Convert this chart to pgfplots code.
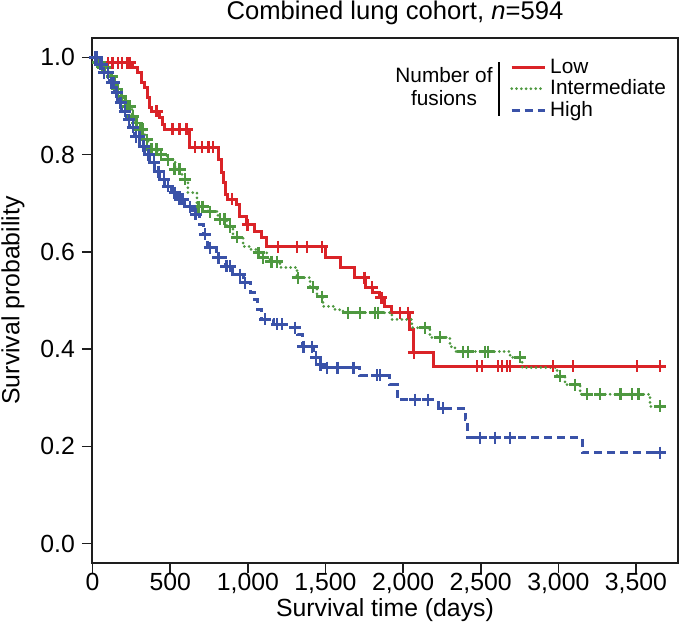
\documentclass[border=0pt]{standalone}
\usepackage{fontspec}
\setmainfont{Liberation Sans}
\usepackage{pgfplots}
\pgfplotsset{compat=1.18}
\definecolor{cLow}{RGB}{218,35,40}
\definecolor{cInt}{RGB}{78,152,64}
\definecolor{cHigh}{RGB}{58,82,168}
\definecolor{framecol}{RGB}{30,30,30}
\begin{document}
\begin{tikzpicture}
\begin{axis}[
  scale only axis, width=293pt, height=262.5pt,
  xmin=-4, xmax=3771, ymin=-0.04, ymax=1.04,
  axis line style={draw=framecol, line width=0.8pt},
  tick style={draw=framecol, line width=0.8pt},
  tick align=outside, major tick length=5pt, tick pos=left,
  xtick={0,500,1000,1500,2000,2500,3000,3500},
  xticklabels={0,500,{1,000},{1,500},{2,000},{2,500},{3,000},{3,500}},
  ytick={0,0.2,0.4,0.6,0.8,1},
  yticklabels={0.0,0.2,0.4,0.6,0.8,1.0},
  ticklabel style={font=\fontsize{12.4}{14}\selectfont},
  xticklabel style={yshift=3.5pt},
  label style={font=\fontsize{12.4}{14}\selectfont},
  xlabel={Survival time (days)},
  ylabel={Survival probability},
  xlabel style={at={(axis description cs:0.5,-0.09)}, anchor=center},
  ylabel style={at={(axis description cs:-0.1348,0.5)}, anchor=center},
  legend style={at={(rel axis cs:0.713,0.965)}, anchor=north west, draw=none, fill=none,
    font=\fontsize{10.4}{11}\selectfont, inner sep=0pt, row sep=-0.2pt,
    nodes={inner xsep=2pt, inner ysep=1pt}},
  legend cell align=left,
  legend image code/.code={\draw[#1] (0pt,0pt) -- (16.5pt,0pt);},
  clip=false,
]
% Low
\addplot[const plot, cLow, line width=1.5pt] coordinates {
(0,1.0)(48,0.989)(260,0.979)(292,0.969)(318,0.948)(337,0.938)(356,0.918)(369,0.897)(382,0.889)
(434,0.877)(453,0.862)(466,0.852)(627,0.815)(814,0.79)(833,0.763)(846,0.743)(859,0.718)(872,0.708)
(930,0.697)(949,0.673)(994,0.656)(1046,0.642)(1091,0.63)(1123,0.611)(1497,0.588)(1594,0.568)
(1690,0.547)(1755,0.527)(1806,0.516)(1851,0.506)(1883,0.488)(1928,0.475)(2044,0.44)(2064,0.393)
(2193,0.365)(3655,0.365)};
\addlegendentry{Low}
% Intermediate
\addplot[const plot, cInt, line width=1.5pt, line cap=round, dash pattern=on 0pt off 2.4pt] coordinates {
(0,1.0)(26,0.99)(66,0.98)(99,0.97)(112,0.96)(131,0.948)(157,0.935)(176,0.92)(202,0.91)(221,0.899)
(253,0.879)(273,0.865)(292,0.852)(337,0.831)(356,0.811)(420,0.80)(479,0.79)(531,0.77)(576,0.749)
(614,0.722)(672,0.693)(743,0.683)(807,0.667)(865,0.652)(904,0.63)(969,0.611)(1014,0.605)(1065,0.598)
(1123,0.588)(1143,0.58)(1207,0.568)(1317,0.547)(1401,0.527)(1445,0.508)(1484,0.488)(1562,0.481)
(1613,0.475)(1928,0.461)(2057,0.444)(2173,0.424)(2302,0.405)(2334,0.395)(2689,0.383)(2767,0.362)
(2992,0.344)(3043,0.327)(3140,0.307)(3591,0.282)(3655,0.282)};
\addlegendentry{Intermediate}
% High
\addplot[const plot, cHigh, line width=1.5pt, dash pattern=on 4pt off 2.5pt] coordinates {
(0,1.0)(34,0.986)(66,0.969)(111,0.948)(144,0.928)(163,0.907)(189,0.889)(221,0.872)(240,0.856)
(273,0.837)(305,0.817)(337,0.80)(369,0.784)(401,0.765)(434,0.749)(466,0.735)(511,0.722)(550,0.708)
(595,0.693)(646,0.677)(691,0.656)(717,0.636)(743,0.609)(801,0.588)(853,0.57)(904,0.553)(969,0.537)
(1014,0.516)(1046,0.502)(1065,0.481)(1091,0.461)(1162,0.451)(1252,0.444)(1317,0.43)(1349,0.405)
(1420,0.383)(1465,0.368)(1484,0.362)(1722,0.346)(1915,0.327)(1961,0.296)(2225,0.278)(2399,0.255)
(2418,0.218)(3153,0.187)(3655,0.187)};
\addlegendentry{High}
% censor marks
\addplot[forget plot, only marks, mark=+, mark size=3pt, cLow, mark options={line width=1.4pt}] coordinates {
(99,0.989)(130,0.989)(163,0.989)(189,0.989)(221,0.989)(240,0.989)(414,0.889)(517,0.852)(562,0.852)(607,0.852)
(659,0.815)(705,0.815)(744,0.815)(776,0.815)(898,0.708)(1000,0.656)(1194,0.611)(1317,0.611)(1381,0.611)
(1478,0.611)(1750,0.547)(1800,0.527)(1860,0.506)(1980,0.475)(2032,0.475)(2070,0.393)
(2476,0.365)(2508,0.365)(2611,0.365)(2637,0.365)(2670,0.365)(2689,0.365)(2966,0.365)(3095,0.365)
(3507,0.365)(3655,0.365)};
\addplot[forget plot, only marks, mark=+, mark size=3pt, cInt, mark options={line width=1.4pt}] coordinates {
(20,1.0)(34,0.99)(50,0.99)(66,0.98)(80,0.98)(99,0.97)(124,0.96)(140,0.948)(160,0.935)(185,0.92)(210,0.91)
(225,0.899)(240,0.899)(260,0.879)(285,0.865)(305,0.852)(320,0.852)(350,0.831)(380,0.811)
(414,0.811)(440,0.80)(485,0.79)(530,0.77)(560,0.77)(595,0.749)(680,0.693)(710,0.693)(756,0.683)(820,0.667)(850,0.667)(885,0.652)(930,0.63)
(1070,0.598)(1098,0.588)(1150,0.58)(1188,0.58)(1323,0.547)(1420,0.527)(1478,0.508)(1645,0.475)
(1722,0.475)(1819,0.475)(1838,0.475)(2141,0.444)(2238,0.424)(2386,0.395)(2418,0.395)(2528,0.395)
(2547,0.395)(2753,0.383)(3011,0.344)(3108,0.327)(3185,0.307)(3269,0.307)(3398,0.307)(3475,0.307)
(3514,0.307)(3655,0.282)};
\addplot[forget plot, only marks, mark=+, mark size=3pt, cHigh, mark options={line width=1.4pt}] coordinates {
(15,1.0)(28,1.0)(47,0.986)(60,0.986)(73,0.969)(99,0.969)(124,0.948)(135,0.948)(156,0.928)(182,0.907)(208,0.889)(235,0.872)
(260,0.856)(280,0.837)(300,0.837)(330,0.817)(360,0.80)(395,0.784)(425,0.765)(460,0.749)(485,0.735)(530,0.722)
(562,0.708)(580,0.708)(627,0.693)(665,0.677)(724,0.636)(756,0.609)(810,0.588)(860,0.57)(885,0.57)(949,0.553)(982,0.537)
(1110,0.461)(1188,0.451)(1220,0.451)(1304,0.444)(1356,0.405)(1413,0.405)(1439,0.383)(1470,0.368)
(1510,0.362)(1575,0.362)(1678,0.362)(1832,0.346)(1851,0.346)(2077,0.296)(2160,0.296)(2257,0.278)
(2495,0.218)(2592,0.218)(2689,0.218)(3655,0.187)};
% frame
\draw[framecol, line width=0.8pt] (rel axis cs:0,0) rectangle (rel axis cs:1,1);
% title
\node[font=\fontsize{12.8}{14}\selectfont, anchor=center] at (axis description cs:0.517,1.047) {Combined lung cohort, \textit{n}=594};
% legend title and separator
\node[font=\fontsize{10.4}{11.5}\selectfont, align=center, anchor=center] at (rel axis cs:0.6007,0.9067) {Number of\\fusions};
\draw[black, line width=0.8pt] (rel axis cs:0.6945,0.954) -- (rel axis cs:0.6945,0.851);
\coordinate (sw) at (rel axis cs:0,0);
\coordinate (ne) at (rel axis cs:1,1);
\end{axis}
\pgfresetboundingbox
\path ([shift={(-46pt,-40pt)}]sw) rectangle ([shift={(3.5pt,19pt)}]ne);
\end{tikzpicture}
\end{document}
